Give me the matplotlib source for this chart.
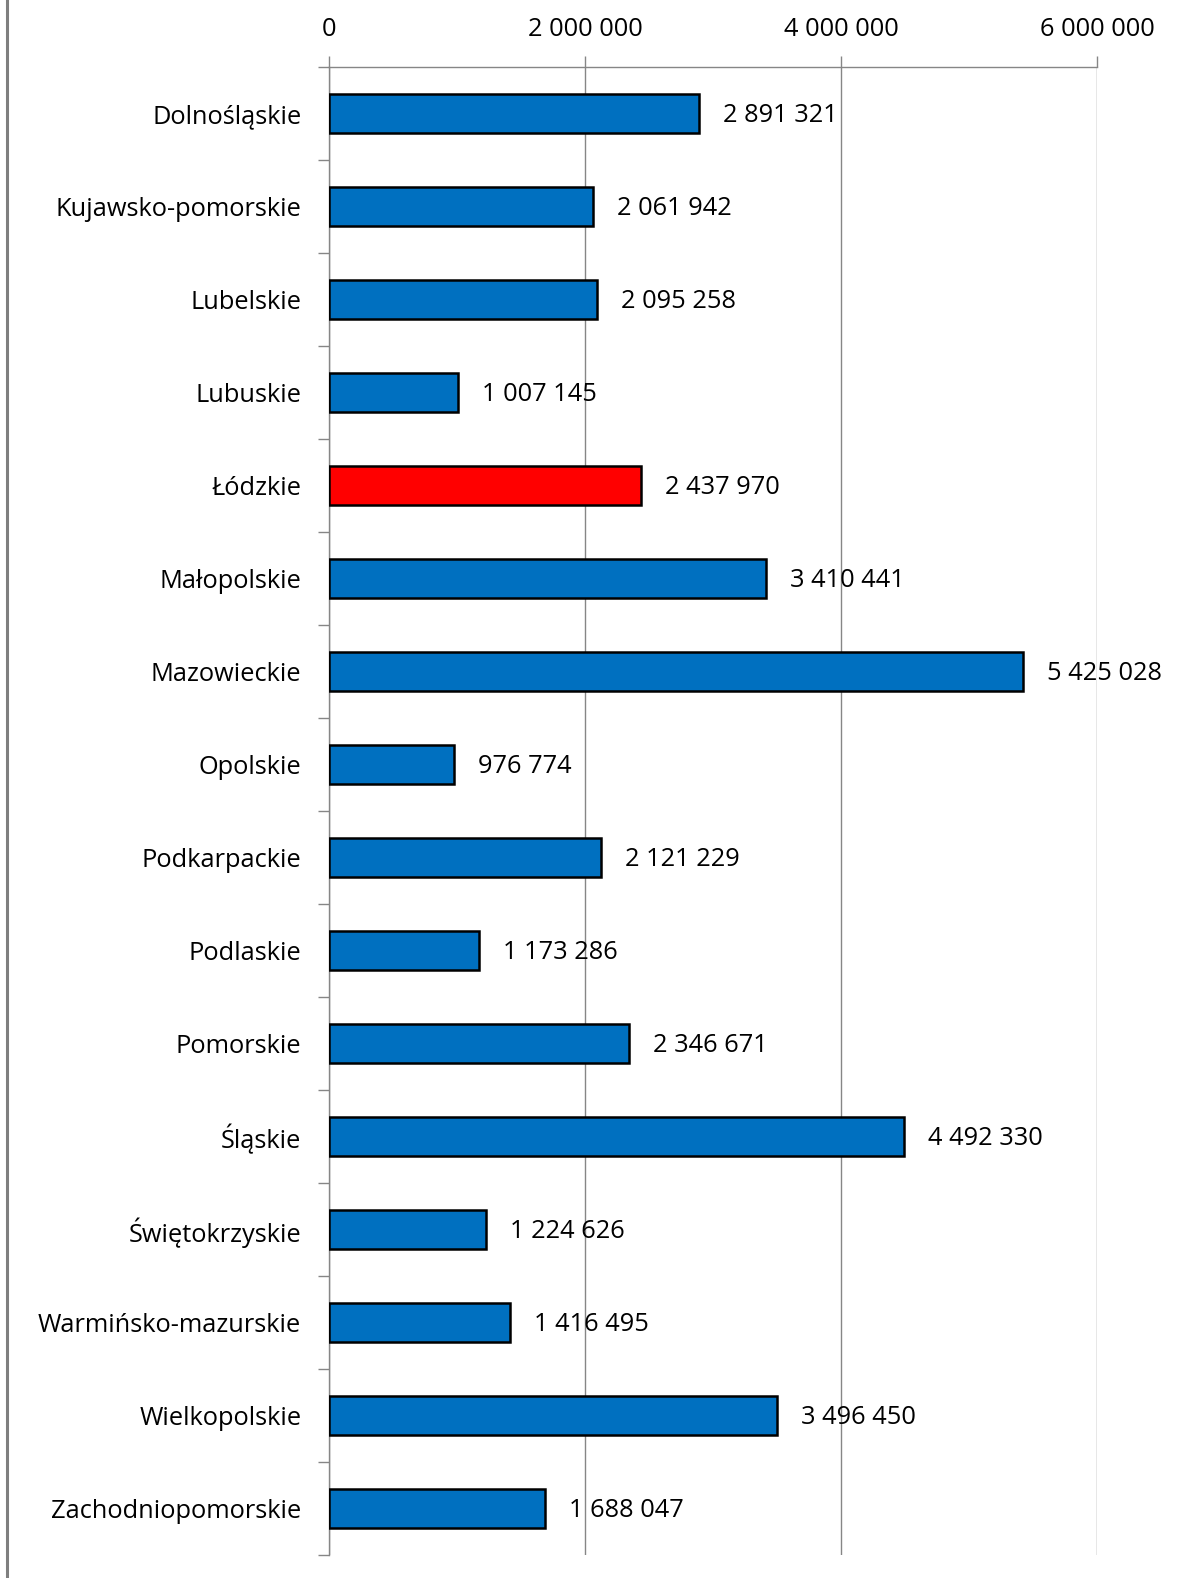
import matplotlib
matplotlib.use("Agg")
import matplotlib.pyplot as plt
from matplotlib.lines import Line2D

regions = ["Dolnośląskie", "Kujawsko-pomorskie", "Lubelskie", "Lubuskie", "Łódzkie",
           "Małopolskie", "Mazowieckie", "Opolskie", "Podkarpackie", "Podlaskie",
           "Pomorskie", "Śląskie", "Świętokrzyskie", "Warmińsko-mazurskie",
           "Wielkopolskie", "Zachodniopomorskie"]
values = [2891321, 2061942, 2095258, 1007145, 2437970, 3410441, 5425028, 976774,
          2121229, 1173286, 2346671, 4492330, 1224626, 1416495, 3496450, 1688047]
highlight = "Łódzkie"
xticks = [0, 2000000, 4000000, 6000000]

plt.rcParams['font.family'] = ['Open Sans', 'DejaVu Sans']

def fmt(v):
    return f"{v:,}".replace(",", " ")

FS = 18.3

fig = plt.figure(figsize=(11.84, 15.78), dpi=100)
ax = fig.add_axes([0.278, 0.0146, 0.9265 - 0.278, 0.9575 - 0.0146])

n = len(regions)
ypos = list(range(n))
colors = ["#FF0000" if r == highlight else "#0070C0" for r in regions]
ax.barh(ypos, values, height=0.41, color=colors, edgecolor="black", linewidth=1.8, zorder=3)

ax.set_ylim(n - 0.5, -0.5)
ax.set_xlim(0, 6000000)
ax.set_yticks(ypos)
ax.set_yticklabels(regions, fontsize=FS)
ax.set_yticks([i - 0.5 for i in range(n + 1)], minor=True)
ax.tick_params(axis='y', which='major', length=0, pad=20)
ax.tick_params(axis='y', which='minor', length=8, color="#868686", width=1, direction='out')

ax.xaxis.tick_top()
ax.set_xticks(xticks)
ax.set_xticklabels([fmt(t) for t in xticks], fontsize=FS)
ax.tick_params(axis='x', length=8, color="#868686", width=1, pad=10)
ax.grid(axis='x', color="#868686", linewidth=1, zorder=0)

for s in ['right', 'bottom']:
    ax.spines[s].set_visible(False)
for s in ['top', 'left']:
    ax.spines[s].set_color("#868686")
    ax.spines[s].set_linewidth(1)

for y, v in zip(ypos, values):
    ax.annotate(fmt(v), xy=(v, y), xytext=(24, -2), textcoords='offset pixels',
                va='center', ha='left', fontsize=FS, zorder=4)

fig.add_artist(Line2D([0.0055, 0.0055], [0, 1], transform=fig.transFigure,
                      color="#7F7F7F", linewidth=2.2))

fig.savefig("out.png", dpi=100)
